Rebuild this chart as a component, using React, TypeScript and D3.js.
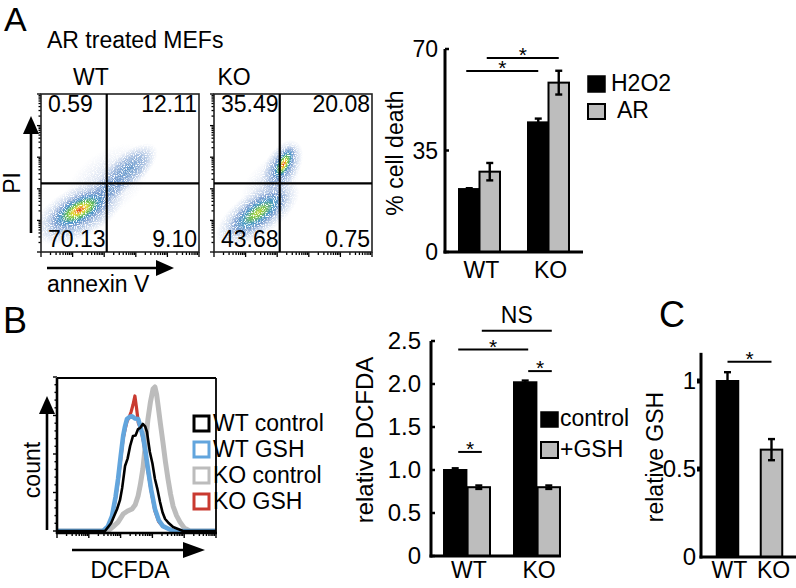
import React from "react";
import * as d3 from "d3";

const FONT = "'Liberation Sans', Arial, Helvetica, sans-serif";
const FS = 23;

// ---------------- Panel A : flow cytometry ----------------
const flowSamples = ["WT", "KO"];
const flowQuadWT = ["0.59", "12.11", "70.13", "9.10"]; // UL, UR, LL, LR
const flowQuadKO = ["35.49", "20.08", "43.68", "0.75"];
const flowGateAnnexin = 2.08; // log decades
const flowGatePI = 2.17;
// density clusters: annexin (dec), PI (dec), rx (dec), ry (dec), angle, level
type Cluster = { x: number; y: number; rx: number; ry: number; a: number; level: string };
const wtClusters: Cluster[] = [
  { x: 2.1, y: 2.2, rx: 1.6, ry: 0.95, a: -38, level: "faint" },
  { x: 1.2, y: 1.25, rx: 1.6, ry: 0.8, a: -28, level: "cool" },
  { x: 2.1, y: 1.95, rx: 0.85, ry: 0.42, a: -38, level: "cool" },
  { x: 2.75, y: 2.6, rx: 1.15, ry: 0.52, a: -40, level: "cool" },
  { x: 1.22, y: 1.33, rx: 1.15, ry: 0.5, a: -28, level: "hot" },
];
const koClusters: Cluster[] = [
  { x: 1.8, y: 2.1, rx: 1.2, ry: 0.75, a: -50, level: "faint" },
  { x: 1.38, y: 1.22, rx: 1.55, ry: 0.7, a: -35, level: "cool" },
  { x: 2.15, y: 2.68, rx: 0.95, ry: 0.55, a: -60, level: "cool" },
  { x: 1.4, y: 1.25, rx: 1.15, ry: 0.45, a: -35, level: "warm" },
  { x: 2.2, y: 2.78, rx: 0.68, ry: 0.3, a: -62, level: "hot" },
];

// ---------------- Panel A : bar chart ----------------
const aGroups = ["WT", "KO"];
const aSeries = ["H2O2", "AR"];
const aH2O2 = [21.7, 44.7];
const aAR = [27.7, 58.4];
const aH2O2Err = [0.3, 1.3];
const aARErr = [3.0, 4.1];
const aTicks = [0, 35, 70];
const aSig = [
  { g1: 0, g2: 1, s: 0, y: 62.4, label: "*" },
  { g1: 0, g2: 1, s: 1, y: 66.9, label: "*" },
];

// ---------------- Panel B : histogram ----------------
const histSeries = ["WT control", "WT GSH", "KO control", "KO GSH"];
const histColors = ["#000000", "#62a5dd", "#bcbcbc", "#c93a30"];
const histWidths = [2.6, 4.6, 5, 3.2];
const histDrawOrder = [2, 3, 1, 0];
const histWTcontrol: [number, number][] = [
  [0, 0], [1.51, 0], [1.7, 5], [1.89, 14.3], [1.98, 20], [2.05, 28], [2.14, 42.2], [2.22, 47],
  [2.3, 55.2], [2.39, 61.7], [2.47, 62], [2.55, 66.2], [2.62, 67], [2.7, 69.5], [2.77, 68],
  [2.83, 64.3], [2.92, 51.3], [3.0, 44], [3.08, 33.8], [3.16, 27], [3.24, 18.8], [3.32, 12],
  [3.4, 7.8], [3.52, 5], [3.65, 2.6], [3.96, 0], [5, 0],
];
const histWTgsh: [number, number][] = [
  [0, 0], [1.45, 0], [1.6, 3], [1.73, 9.7], [1.84, 22], [1.92, 33.8], [2.0, 48], [2.08, 61.7],
  [2.14, 68], [2.2, 72.7], [2.28, 74], [2.36, 74.5], [2.45, 73], [2.55, 72.7], [2.62, 68],
  [2.7, 61.7], [2.78, 52], [2.86, 40.3], [2.96, 27], [3.08, 14.3], [3.2, 7], [3.33, 3.2],
  [3.65, 0], [5, 0],
];
const histKOcontrol: [number, number][] = [
  [0, 0], [1.6, 0], [1.75, 2.5], [1.92, 5.8], [2.08, 11], [2.22, 13], [2.36, 14.3], [2.46, 17],
  [2.55, 22.7], [2.62, 30], [2.7, 40.3], [2.78, 56], [2.86, 72.7], [2.94, 84], [3.02, 92.2],
  [3.08, 93.5], [3.13, 89], [3.18, 81.2], [3.25, 70], [3.33, 57.8], [3.41, 45], [3.49, 33.8],
  [3.57, 24], [3.65, 16.2], [3.76, 10], [3.87, 5.8], [4.0, 2], [4.18, 0], [5, 0],
];
const histKOgsh: [number, number][] = [
  [0, 0], [1.45, 0], [1.6, 3], [1.73, 9], [1.84, 21], [1.92, 32], [2.0, 46], [2.08, 60],
  [2.14, 66], [2.2, 71], [2.27, 74], [2.33, 77.3], [2.39, 82], [2.45, 87.7], [2.5, 80],
  [2.56, 70], [2.64, 66], [2.72, 58], [2.8, 48], [2.86, 39], [2.96, 26], [3.08, 13],
  [3.2, 6], [3.33, 3], [3.65, 0], [5, 0],
];
const histData = [histWTcontrol, histWTgsh, histKOcontrol, histKOgsh];

// ---------------- Panel B : bar chart ----------------
const bGroups = ["WT", "KO"];
const bSeries = ["control", "+GSH"];
const bControl = [1.0, 2.02];
const bGSH = [0.8, 0.8];
const bControlErr = [0.02, 0.02];
const bGSHErr = [0.02, 0.02];
const bTicks = [0, 0.5, 1.0, 1.5, 2.0, 2.5];
const bSig = [
  { g1: 0, s1: 0, g2: 0, s2: 1, y: 1.21, label: "*" },
  { g1: 1, s1: 0, g2: 1, s2: 1, y: 2.15, label: "*" },
  { g1: 0, s1: 0, g2: 1, s2: 0, y: 2.4, label: "*" },
  { g1: 0, s1: 1, g2: 1, s2: 1, y: 2.62, label: "NS" },
];

// ---------------- Panel C ----------------
const cGroups = ["WT", "KO"];
const cValues = [1.0, 0.61];
const cErr = [0.05, 0.06];
const cTicks = [0, 0.5, 1];
const cTickLabels = ["0", "0.5", "1"];

const GRAY = "#bdbdbd";

function ErrorBar({ x, y1, y2, cap = 3.5 }: { x: number; y1: number; y2: number; cap?: number }) {
  return (
    <g stroke="#000" strokeWidth={2.4}>
      <line x1={x} x2={x} y1={y1} y2={y2} />
      <line x1={x - cap} x2={x + cap} y1={y1} y2={y1} />
      <line x1={x - cap} x2={x + cap} y1={y2} y2={y2} />
    </g>
  );
}

function Sig({ x1, x2, y, label, fs = 21 }: { x1: number; x2: number; y: number; label: string; fs?: number }) {
  const star = label === "*";
  return (
    <g>
      <line x1={x1} x2={x2} y1={y} y2={y} stroke="#000" strokeWidth={2} />
      <text
        x={(x1 + x2) / 2}
        y={star ? y + 4 : y - 8}
        textAnchor="middle"
        fontSize={star ? fs : FS}
        fontFamily={FONT}
      >
        {label}
      </text>
    </g>
  );
}

function HArrow({ x1, x2, y, head = 22, hw = 8, sw = 2.6 }: any) {
  return (
    <g>
      <line x1={x1} x2={x2 - head + 2} y1={y} y2={y} stroke="#000" strokeWidth={sw} />
      <polygon points={`${x2},${y} ${x2 - head},${y - hw} ${x2 - head},${y + hw}`} fill="#000" />
    </g>
  );
}
function VArrow({ x, y1, y2, head = 18, hw = 8, sw = 2.6 }: any) {
  return (
    <g>
      <line x1={x} x2={x} y1={y1} y2={y2 + head - 2} stroke="#000" strokeWidth={sw} />
      <polygon points={`${x},${y2} ${x - hw},${y2 + head} ${x + hw},${y2 + head}`} fill="#000" />
    </g>
  );
}

function FlowPlot({ x0, quad, clusters, id }: { x0: number; quad: string[]; clusters: Cluster[]; id: string }) {
  const y0 = 94;
  const w = 158;
  const h = 158;
  const xs = d3.scaleLinear().domain([0, 5]).range([x0, x0 + w]);
  const ys = d3.scaleLinear().domain([0, 5]).range([y0 + h, y0]);
  const pxPerDec = w / 5;
  const logX = d3.scaleLog().domain([1, 1e5]).range([x0, x0 + w]);
  const logY = d3.scaleLog().domain([1, 1e5]).range([y0 + h, y0]);
  const tk = logX.ticks();
  const isMajor = (t: number) => Math.abs(Math.log10(t) - Math.round(Math.log10(t))) < 1e-9;
  const gx = xs(flowGateAnnexin);
  const gy = ys(flowGatePI);
  const fs = 23;
  return (
    <g>
      <defs>
        <clipPath id={`clip-${id}`}>
          <rect x={x0} y={y0} width={w} height={h} />
        </clipPath>
      </defs>
      <g clipPath={`url(#clip-${id})`} filter="url(#speckle)">
        {clusters.map((c, i) => (
          <ellipse
            key={i}
            cx={xs(c.x)}
            cy={ys(c.y)}
            rx={c.rx * pxPerDec}
            ry={c.ry * pxPerDec}
            transform={`rotate(${c.a},${xs(c.x)},${ys(c.y)})`}
            fill={`url(#grad-${c.level})`}
          />
        ))}
      </g>
      {tk.map((t, i) => (
        <line key={"bx" + i} x1={logX(t)} x2={logX(t)} y1={y0 + h} y2={y0 + h + (isMajor(t) ? 5 : 3)} stroke="#000" strokeWidth={1.3} />
      ))}
      {logY.ticks().map((t, i) => (
        <line key={"ly" + i} x1={x0} x2={x0 - (isMajor(t) ? 4 : 2.5)} y1={logY(t)} y2={logY(t)} stroke="#000" strokeWidth={1.3} />
      ))}
      <rect x={x0} y={y0} width={w} height={h} fill="none" stroke="#222" strokeWidth={1.6} />
      <line x1={gx} x2={gx} y1={y0} y2={y0 + h} stroke="#000" strokeWidth={2.2} />
      <line x1={x0} x2={x0 + w} y1={gy} y2={gy} stroke="#000" strokeWidth={2.2} />
      <g fontFamily={FONT} fontSize={fs}>
        <text x={x0 + 7} y={y0 + 18}>{quad[0]}</text>
        <text x={x0 + w - 2} y={y0 + 18} textAnchor="end">{quad[1]}</text>
        <text x={x0 + 7} y={y0 + h - 5}>{quad[2]}</text>
        <text x={x0 + w - 2} y={y0 + h - 5} textAnchor="end">{quad[3]}</text>
      </g>
    </g>
  );
}

export default function App() {
  const aX = d3.scaleBand().domain(aGroups).range([445, 583]).paddingInner(0.406).paddingOuter(0.203);
  const aSub = d3.scaleBand().domain(aSeries).range([0, aX.bandwidth()]);
  const aY = d3.scaleLinear().domain([0, 70]).range([252, 49]);
  const aVals = [aH2O2, aAR];
  const aErrs = [aH2O2Err, aARErr];
  const aCenter = (g: number, s: number) => (aX(aGroups[g]) as number) + (aSub(aSeries[s]) as number) + aSub.bandwidth() / 2;

  const hX = d3.scaleLinear().domain([0, 5]).range([57, 216]);
  const hY = d3.scaleLinear().domain([0, 100]).range([531, 377]);
  const hLine = d3.line<[number, number]>().x((d) => hX(d[0])).y((d) => hY(d[1]));
  const hLog = d3.scaleLog().domain([1, 1e5]).range([57, 216]);
  const isMajor = (t: number) => Math.abs(Math.log10(t) - Math.round(Math.log10(t))) < 1e-9;
  const hYTicks = d3.range(0, 101, 5);

  const bX = d3.scaleBand().domain(bGroups).range([431, 573]).paddingInner(0.343).paddingOuter(0.186);
  const bSub = d3.scaleBand().domain(bSeries).range([0, bX.bandwidth()]).paddingInner(0.05);
  const bY = d3.scaleLinear().domain([0, 2.5]).range([556, 341]);
  const bVals = [bControl, bGSH];
  const bErrs = [bControlErr, bGSHErr];
  const bCenter = (g: number, s: number) => (bX(bGroups[g]) as number) + (bSub(bSeries[s]) as number) + bSub.bandwidth() / 2;

  const cX = d3.scaleBand().domain(cGroups).range([701, 798]).paddingInner(0.511).paddingOuter(0.358);
  const cY = d3.scaleLinear().domain([0, 1]).range([557, 381]);

  const tfmt = (v: number) => (v === 0 ? "0" : d3.format(".1f")(v));

  return (
    <div style={{ position: "absolute", left: 0, top: 0 }}>
      <svg width={796} height={588} style={{ display: "block", background: "#fff" }} fontFamily={FONT}>
        <defs>
          <radialGradient id="grad-hot">
            <stop offset="0" stopColor="#d8261c" />
            <stop offset="0.1" stopColor="#ef8a1e" />
            <stop offset="0.22" stopColor="#e3dc3a" />
            <stop offset="0.38" stopColor="#66c04e" />
            <stop offset="0.58" stopColor="#3c90c6" stopOpacity="0.85" />
            <stop offset="0.8" stopColor="#6b8fca" stopOpacity="0.45" />
            <stop offset="1" stopColor="#9fb4dc" stopOpacity="0" />
          </radialGradient>
          <radialGradient id="grad-warm">
            <stop offset="0" stopColor="#c8d83c" />
            <stop offset="0.22" stopColor="#7cc44e" />
            <stop offset="0.5" stopColor="#3e97c2" stopOpacity="0.85" />
            <stop offset="0.78" stopColor="#5c86c4" stopOpacity="0.45" />
            <stop offset="1" stopColor="#8ea8d8" stopOpacity="0" />
          </radialGradient>
          <radialGradient id="grad-cool">
            <stop offset="0" stopColor="#4a88c2" stopOpacity="0.85" />
            <stop offset="0.55" stopColor="#6690ca" stopOpacity="0.55" />
            <stop offset="1" stopColor="#9fb4dc" stopOpacity="0" />
          </radialGradient>
          <radialGradient id="grad-faint">
            <stop offset="0" stopColor="#8aa5d6" stopOpacity="0.45" />
            <stop offset="1" stopColor="#b0c0e0" stopOpacity="0" />
          </radialGradient>
          <filter id="speckle" x="0" y="0" width="100%" height="100%">
            <feTurbulence type="fractalNoise" baseFrequency="0.9" numOctaves="1" seed="4" result="noise" />
            <feColorMatrix
              in="noise"
              type="matrix"
              values="0 0 0 0 0  0 0 0 0 0  0 0 0 0 0  5 0 0 0 -1.6"
              result="mask"
            />
            <feComposite in="SourceGraphic" in2="mask" operator="in" />
          </filter>
        </defs>

        {/* ===== Panel A ===== */}
        <text x={4} y={31} fontSize={34}>A</text>
        <text x={47} y={48} fontSize={FS}>AR treated MEFs</text>
        <text x={91} y={85} fontSize={FS} textAnchor="middle">{flowSamples[0]}</text>
        <text x={234} y={85} fontSize={FS} textAnchor="middle">{flowSamples[1]}</text>
        <FlowPlot x0={41} quad={flowQuadWT} clusters={wtClusters} id="wt" />
        <FlowPlot x0={214} quad={flowQuadKO} clusters={koClusters} id="ko" />
        <VArrow x={31} y1={233} y2={116} head={18} hw={8} />
        <text transform="translate(20,183) rotate(-90)" textAnchor="middle" fontSize={FS}>PI</text>
        <HArrow x1={47} x2={174} y={268} head={18} hw={8} />
        <text x={47} y={292} fontSize={FS}>annexin V</text>

        {/* Panel A bars */}
        <g>
          {aGroups.map((g, gi) =>
            aSeries.map((s, si) => {
              const x = (aX(g) as number) + (aSub(s) as number);
              const v = aVals[si][gi];
              return (
                <rect
                  key={g + s}
                  x={x}
                  y={aY(v)}
                  width={aSub.bandwidth()}
                  height={aY(0) - aY(v)}
                  fill={si === 0 ? "#000" : GRAY}
                  stroke="#000"
                  strokeWidth={2}
                />
              );
            })
          )}
          {aGroups.map((g, gi) =>
            aSeries.map((s, si) => {
              const v = aVals[si][gi];
              const e = aErrs[si][gi];
              return <ErrorBar key={"e" + g + s} x={aCenter(gi, si)} y1={aY(v + e)} y2={aY(v - e)} />;
            })
          )}
          <line x1={445} x2={445} y1={aY(70)} y2={aY(0) + 1.5} stroke="#000" strokeWidth={3} />
          <line x1={443.5} x2={583} y1={aY(0)} y2={aY(0)} stroke="#000" strokeWidth={3} />
          {aTicks.map((t) => (
            <g key={t}>
              <line x1={445} x2={449} y1={aY(t)} y2={aY(t)} stroke="#000" strokeWidth={2.5} />
              <text x={438} y={aY(t) + 8} textAnchor="end" fontSize={FS}>{t}</text>
            </g>
          ))}
          {aGroups.map((g) => (
            <text key={g} x={(aX(g) as number) + aX.bandwidth() / 2 + 2} y={278} textAnchor="middle" fontSize={FS}>{g}</text>
          ))}
          <text transform="translate(403,153) rotate(-90)" textAnchor="middle" fontSize={FS}>% cell death</text>
          {aSig.map((sg, i) => (
            <Sig key={i} x1={aCenter(sg.g1, sg.s) - 3} x2={aCenter(sg.g2, sg.s)} y={aY(sg.y)} label={sg.label} />
          ))}
          <rect x={588} y={76} width={17} height={16} fill="#000" stroke="#000" strokeWidth={1.5} />
          <text x={611} y={91} fontSize={FS}>{aSeries[0]}</text>
          <rect x={588} y={104} width={17} height={15} fill={GRAY} stroke="#000" strokeWidth={2} />
          <text x={617} y={118} fontSize={FS}>{aSeries[1]}</text>
        </g>

        {/* ===== Panel B ===== */}
        <text x={3} y={333} fontSize={36}>B</text>
        <g>
          {histDrawOrder.map((i) => (
            <path
              key={i}
              d={hLine(histData[i]) as string}
              fill="none"
              stroke={histColors[i]}
              strokeWidth={histWidths[i]}
              strokeLinejoin="round"
            />
          ))}
          <line x1={57} x2={216} y1={378} y2={378} stroke="#000" strokeWidth={1.8} />
          <line x1={216} x2={216} y1={378} y2={533} stroke="#000" strokeWidth={1.8} />
          <line x1={57} x2={57} y1={378} y2={534} stroke="#000" strokeWidth={2.6} />
          <line x1={56} x2={217} y1={533} y2={533} stroke="#000" strokeWidth={2.6} />
          {hLog.ticks().map((t, i) => (
            <line key={i} x1={hLog(t)} x2={hLog(t)} y1={533} y2={533 + (isMajor(t) ? 5 : 3)} stroke="#000" strokeWidth={1.4} />
          ))}
          {hYTicks.map((t) => (
            <line key={t} x1={57} x2={57 - (t % 25 === 0 ? 4 : 2.5)} y1={hY(t)} y2={hY(t)} stroke="#000" strokeWidth={1.4} />
          ))}
          <VArrow x={47} y1={530} y2={396} head={18} hw={8} />
          <text transform="translate(40,470) rotate(-90)" textAnchor="middle" fontSize={FS}>count</text>
          <HArrow x1={72} x2={205} y={550} head={22} hw={8} />
          <text x={130} y={578} textAnchor="middle" fontSize={FS}>DCFDA</text>
          {histSeries.map((s, i) => (
            <g key={s}>
              <rect x={194} y={416 + i * 26} width={15} height={15} fill="none" stroke={histColors[i]} strokeWidth={3} />
              <text x={213} y={431 + i * 26} fontSize={FS}>{s}</text>
            </g>
          ))}
        </g>

        {/* Panel B bars */}
        <g>
          {bGroups.map((g, gi) =>
            bSeries.map((s, si) => {
              const x = (bX(g) as number) + (bSub(s) as number);
              const v = bVals[si][gi];
              return (
                <rect
                  key={g + s}
                  x={x}
                  y={bY(v)}
                  width={bSub.bandwidth()}
                  height={bY(0) - bY(v)}
                  fill={si === 0 ? "#000" : GRAY}
                  stroke="#000"
                  strokeWidth={2}
                />
              );
            })
          )}
          {bGroups.map((g, gi) =>
            bSeries.map((s, si) => {
              const v = bVals[si][gi];
              const e = bErrs[si][gi];
              return <ErrorBar key={"e" + g + s} x={bCenter(gi, si)} y1={bY(v + e)} y2={bY(v - e)} />;
            })
          )}
          <line x1={431} x2={431} y1={bY(2.5)} y2={bY(0) + 1.5} stroke="#000" strokeWidth={3} />
          <line x1={429.5} x2={(bX("KO") as number) + bX.bandwidth() + 1} y1={bY(0)} y2={bY(0)} stroke="#000" strokeWidth={3} />
          {bTicks.map((t) => (
            <g key={t}>
              <line x1={431} x2={435} y1={bY(t)} y2={bY(t)} stroke="#000" strokeWidth={2.5} />
              <text x={421} y={bY(t) + 8} textAnchor="end" fontSize={24}>{tfmt(t)}</text>
            </g>
          ))}
          {bGroups.map((g) => (
            <text key={g} x={(bX(g) as number) + bX.bandwidth() / 2 + 2} y={578} textAnchor="middle" fontSize={FS}>{g}</text>
          ))}
          <text transform="translate(373,440) rotate(-90)" textAnchor="middle" fontSize={24}>relative DCFDA</text>
          {bSig.map((sg, i) => (
            <Sig key={i} x1={bCenter(sg.g1, sg.s1) + 3} x2={bCenter(sg.g2, sg.s2) + 3} y={bY(sg.y)} label={sg.label} />
          ))}
          <rect x={541} y={412} width={17} height={15} fill="#000" stroke="#000" strokeWidth={1.5} />
          <text x={560} y={426} fontSize={FS}>{bSeries[0]}</text>
          <rect x={541} y={442} width={17} height={16} fill={GRAY} stroke="#000" strokeWidth={2} />
          <text x={560} y={457} fontSize={FS}>{bSeries[1]}</text>
        </g>

        {/* ===== Panel C ===== */}
        <text x={659} y={327} fontSize={36}>C</text>
        <g>
          {cGroups.map((g, gi) => (
            <rect
              key={g}
              x={cX(g) as number}
              y={cY(cValues[gi])}
              width={cX.bandwidth()}
              height={cY(0) - cY(cValues[gi])}
              fill={gi === 0 ? "#000" : GRAY}
              stroke="#000"
              strokeWidth={2}
            />
          ))}
          {cGroups.map((g, gi) => (
            <ErrorBar
              key={"e" + g}
              x={(cX(g) as number) + cX.bandwidth() / 2}
              y1={cY(cValues[gi] + cErr[gi])}
              y2={cY(cValues[gi] - cErr[gi])}
            />
          ))}
          <line x1={701} x2={701} y1={cY(1.16)} y2={cY(0) + 1.5} stroke="#000" strokeWidth={3} />
          <line x1={699.5} x2={796} y1={cY(0)} y2={cY(0)} stroke="#000" strokeWidth={3} />
          {cTicks.map((t, i) => (
            <g key={t}>
              {t > 0 && <rect x={697} y={cY(t) - 2.5} width={5} height={5} fill="#000" />}
              <text x={696} y={cY(t) + 8} textAnchor="end" fontSize={24}>{cTickLabels[i]}</text>
            </g>
          ))}
          {cGroups.map((g) => (
            <text key={g} x={(cX(g) as number) + cX.bandwidth() / 2 + 2} y={578} textAnchor="middle" fontSize={FS}>{g}</text>
          ))}
          <text transform="translate(663,457) rotate(-90)" textAnchor="middle" fontSize={FS}>relative GSH</text>
          <Sig x1={(cX("WT") as number) + cX.bandwidth() / 2} x2={(cX("KO") as number) + cX.bandwidth() / 2} y={cY(1.11)} label="*" />
        </g>
      </svg>
    </div>
  );
}
